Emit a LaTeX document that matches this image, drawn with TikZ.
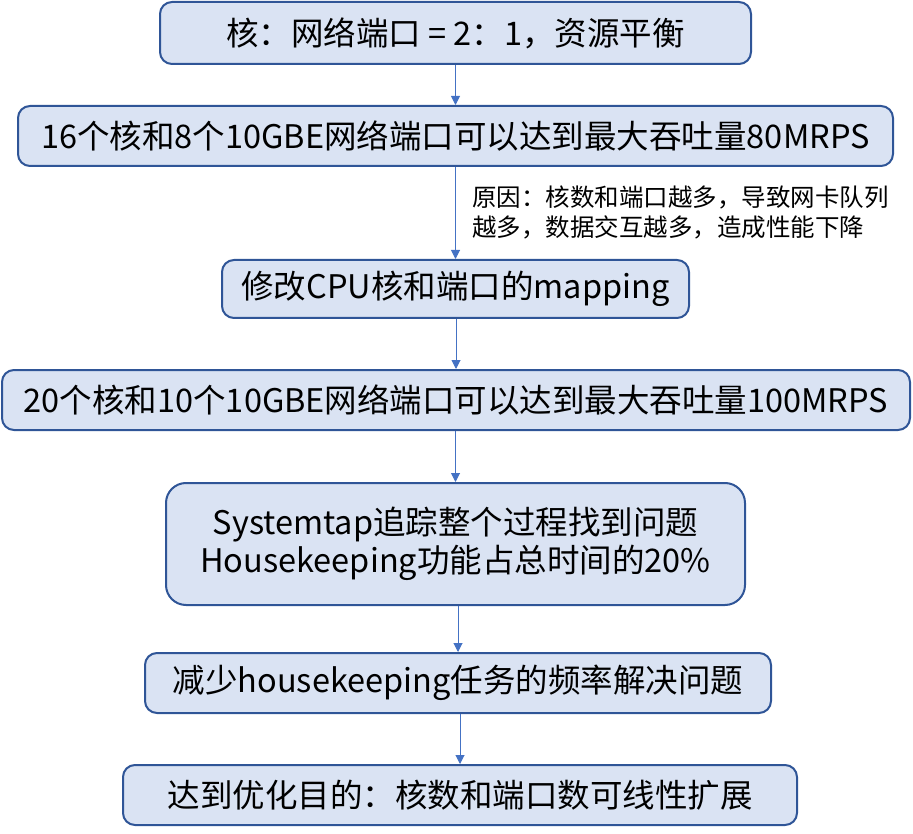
\documentclass[tikz,border=0pt]{standalone}
\usepackage{fontspec}
\setmainfont{Noto Sans CJK SC}
\usetikzlibrary{arrows.meta}
\definecolor{boxfill}{HTML}{DAE3F3}
\definecolor{boxline}{HTML}{2F5597}
\definecolor{arrowline}{HTML}{4472C4}
\tikzset{
  stepbox/.style={draw=boxline, fill=boxfill, line width=2pt, rounded corners=12pt,
    inner sep=0pt, align=center, font=\fontsize{32.5}{38}\selectfont},
  flow/.style={draw=arrowline, line width=1pt, -{Triangle[width=9pt,length=9pt]}},
}
\begin{document}
\begin{tikzpicture}[x=1pt,y=-1pt]
  \useasboundingbox (0,0) rectangle (913,834);
  % steps of the flow
  \node [stepbox, minimum width=591, minimum height=62] (ratio) at (455.5,33) {核：网络端口 = 2：1，资源平衡};
  \node [stepbox, minimum width=875, minimum height=60] (max80) at (455.5,136) {16个核和8个10GBE网络端口可以达到最大吞吐量80MRPS};
  \node [stepbox, minimum width=467, minimum height=58] (mapping) at (455.5,289) {修改CPU核和端口的mapping};
  \node [stepbox, minimum width=908, minimum height=60] (max100) at (456,400) {20个核和10个10GBE网络端口可以达到最大吞吐量100MRPS};
  \node [stepbox, minimum width=579, minimum height=122, rounded corners=20pt] (trace) at (455.5,544) {Systemtap追踪整个过程找到问题\\Housekeeping功能占总时间的20\%};
  \node [stepbox, minimum width=626, minimum height=60] (reduce) at (458,683) {减少housekeeping任务的频率解决问题};
  \node [stepbox, minimum width=674, minimum height=60] (goal) at (460,795) {达到优化目的：核数和端口数可线性扩展};
  % reason note
  \node [anchor=north west, inner sep=0pt, align=left, font=\fontsize{24.5}{30}\selectfont] (reason) at (472,186) {原因：核数和端口越多，导致网卡队列\\越多，数据交互越多，造成性能下降};
  % connectors
  \foreach \a/\b in {ratio/max80, max80/mapping, mapping/max100, max100/trace, trace/reduce, reduce/goal}
    \draw [flow] (\b.north |- \a.south) -- (\b.north);
\end{tikzpicture}
\end{document}
